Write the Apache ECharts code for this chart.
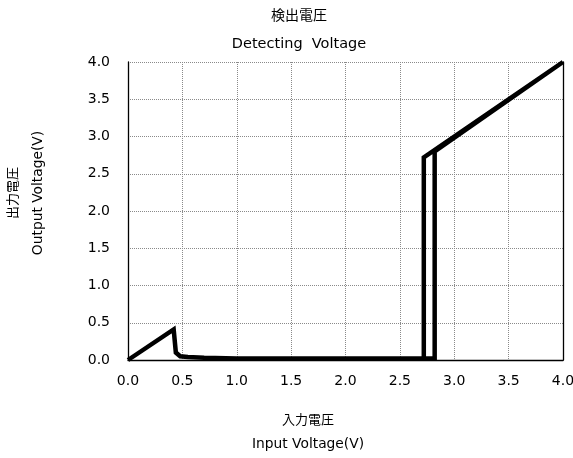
<!DOCTYPE html>
<html>
<head>
<meta charset="utf-8">
<script src="https://cdn.jsdelivr.net/npm/echarts@6/dist/echarts.min.js"></script>
<style>html,body{margin:0;padding:0;background:#fff;}#c{width:573px;height:458px;}</style>
</head>
<body>
<div id="c"></div>
<script>
// Hysteresis sweep: rising then falling input voltage
var inputV  = [0, 0.42, 0.44, 0.48, 0.55, 0.70, 1.00, 2.00, 2.82, 2.82, 4.00, 2.72, 2.72, 2.00];
var outputV = [0, 0.41, 0.10, 0.05, 0.04, 0.03, 0.02, 0.02, 0.02, 2.80, 4.00, 2.72, 0.02, 0.02];
var xTicks = ['0.0','0.5','1.0','1.5','2.0','2.5','3.0','3.5','4.0'];
var yTicks = ['0.0','0.5','1.0','1.5','2.0','2.5','3.0','3.5','4.0'];
var titleJa = '検出電圧', titleEn = 'Detecting  Voltage';
var xNameJa = '入力電圧', xNameEn = 'Input Voltage(V)';
var yNameJa = '出力電圧', yNameEn = 'Output Voltage(V)';

var FF = "'DejaVu Sans','Noto Sans CJK JP',sans-serif";
var pts = inputV.map(function(x,i){return [x, outputV[i]];});
var chart = echarts.init(document.getElementById('c'), null, {renderer:'canvas'});
function txt(t, x, y, rot, size){
  return {type:'text', x:x, y:y, rotation: rot||0,
    style:{text:t, fill:'#000', font: (size||14)+'px '+FF, textAlign:'center', textVerticalAlign:'middle'}};
}
var gridLine = {show:true, lineStyle:{color:'#8a8a8a', type:[1,1], width:1}};
chart.setOption({
  animation:false,
  backgroundColor:'#fff',
  grid:{left:128, right:10, top:62, bottom:98, containLabel:false, outerBoundsMode:'none'},
  xAxis:{type:'value', min:0, max:4, interval:0.5,
    axisLine:{show:true, onZero:false, lineStyle:{color:'#000', width:1.3}},
    axisTick:{show:false},
    axisLabel:{color:'#000', fontSize:14, fontFamily:FF, margin:14,
      formatter:function(v){return xTicks[Math.round(v/0.5)];}},
    splitLine:gridLine},
  yAxis:[{type:'value', min:0, max:4, interval:0.5,
    axisLine:{show:true, onZero:false, lineStyle:{color:'#000', width:1.3}},
    axisTick:{show:false},
    axisLabel:{color:'#000', fontSize:14, fontFamily:FF, margin:18,
      formatter:function(v){return yTicks[Math.round(v/0.5)];}},
    splitLine:gridLine},
   {type:'value', min:0, max:4, interval:0.5, position:'right',
    axisLine:{show:true, onZero:false, lineStyle:{color:'#000', width:1.3}},
    axisTick:{show:false}, axisLabel:{show:false}, splitLine:{show:false}}],
  series:[{type:'line', data:pts, showSymbol:false, silent:true,
    lineStyle:{color:'#000', width:4.5, join:'miter'}}],
  graphic:[
    txt(titleJa, 299, 16, 0, 14),
    txt(titleEn, 299, 44, 0, 14.5),
    txt(xNameJa, 308, 421, 0, 13),
    txt(xNameEn, 308, 444, 0, 13.8),
    txt(yNameJa, 14, 193, Math.PI/2, 13),
    txt(yNameEn, 38, 193, Math.PI/2, 13.8)
  ]
});
</script>
</body>
</html>
